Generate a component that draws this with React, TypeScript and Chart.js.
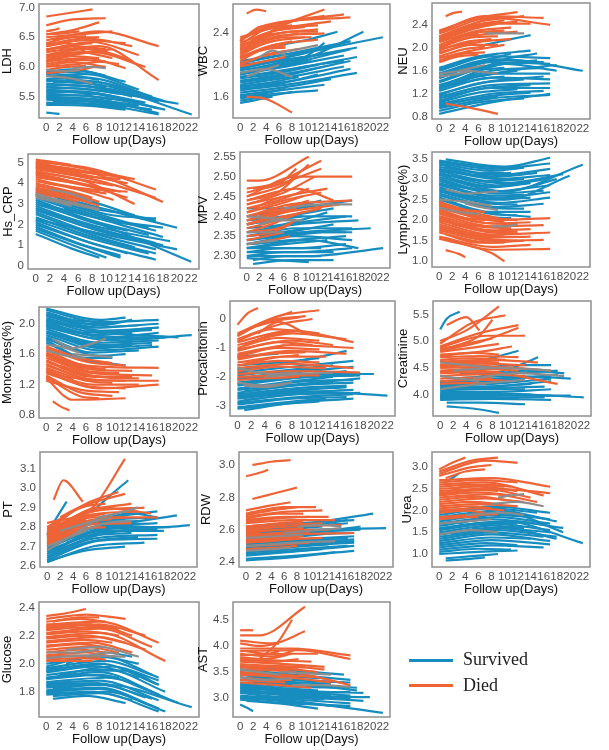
import React, { useEffect, useRef } from "react";
import { Chart, registerables } from "chart.js";
Chart.register(...registerables);

const BLUE = "#178dbf";
const ORANGE = "#ee6437";
const GREY = "#8c8c8c";
const FONT = "'Liberation Sans', Arial, sans-serif";

const DAY_TICKS = [0, 2, 4, 6, 8, 10, 12, 14, 16, 18, 20, 22];

// Each line: [x0, y0, x1, y1, x2, y2] (day, value)
const LDH_TICKS = [5.5, 6.0, 6.5, 7.0];
const LDH_SURVIVED = [
  [0,5.92,4,5.96,9,5.85],[0,5.88,5,5.93,12,5.75],[0,5.85,6,5.88,14,5.62],[0,5.8,6,5.82,16,5.5],
  [0,5.78,8,5.74,18,5.42],[1,5.75,8,5.7,17,5.45],[0,5.72,10,5.62,22,5.2],[0,5.7,6,5.68,13,5.55],
  [0,5.67,8,5.6,20,5.38],[0,5.65,5,5.64,11,5.55],[0,5.62,8,5.55,17,5.3],[0,5.6,6,5.58,15,5.4],
  [1,5.58,7,5.55,12,5.45],[0,5.55,9,5.48,18,5.28],[0,5.52,5,5.52,10,5.45],[0,5.5,8,5.45,17,5.22],
  [0,5.48,6,5.46,14,5.35],[0,5.45,7,5.42,16,5.28],[1,5.43,6,5.42,12,5.33],[0,5.4,8,5.37,17,5.2],
  [0,5.38,5,5.38,11,5.3],[0,5.36,6,5.35,12,5.28],[0,5.9,3,5.92,6,5.88],[1,5.83,4,5.85,8,5.78],
  [0,5.76,4,5.76,9,5.66],[2,5.7,7,5.66,13,5.5],[0,5.58,4,5.58,7,5.52],[1,5.47,6,5.46,13,5.36],
  [0,5.23,1,5.22,2,5.21],[3,5.8,9,5.72,17,5.4]
];
const LDH_DIED = [
  [0,6.85,3,6.9,7,6.97],[0,6.7,4,6.8,9,6.82],[0,6.6,1,6.62,2,6.65],[0,6.55,4,6.62,8,6.75],
  [0,6.5,5,6.55,10,6.6],[0,6.45,8,6.6,17,6.35],[0,6.4,4,6.5,8,6.5],[0,6.38,6,6.48,13,6.35],
  [0,6.35,6,6.45,12,6.4],[0,6.3,7,6.42,14,6.2],[0,6.28,4,6.35,9,6.3],[0,6.25,8,6.35,17,5.78],
  [0,6.2,6,6.3,13,6.1],[0,6.18,5,6.25,10,6.15],[0,6.15,7,6.25,15,6.0],[0,6.12,4,6.18,8,6.15],
  [0,6.1,6,6.15,12,5.98],[0,6.05,5,6.12,11,6.05],[0,6.02,4,6.08,9,6.0],[0,6.0,5,6.05,9,6.1],
  [0,5.95,3,6.0,6,6.02],[0,5.9,5,5.95,8,6.02],[1,6.45,4,6.5,6,6.52],[2,6.3,5,6.38,7,6.4],
  [0,6.55,3,6.57,5,6.6],[1,6.22,6,6.32,12,6.15],[0,6.35,3,6.4,6,6.25],[0,6.08,4,6.2,10,6.3]
];
const LDH_OTHER = [[0,5.85,4,5.8,7,5.72],[4,5.98,7,6.0,9,5.98],[0,5.95,3,5.93,5,5.95]];

const WBC_TICKS = [1.6, 2.0, 2.4];
const WBC_SURVIVED = [
  [0,2.05,6,2.12,13,2.2],[0,2.02,8,2.15,17,2.3],[0,1.98,8,2.12,22,2.35],[0,1.95,6,2.05,14,2.15],
  [0,1.93,10,2.08,19,2.42],[0,1.9,8,2.02,17,2.2],[0,1.88,7,1.98,16,2.12],[0,1.85,8,1.95,18,2.1],
  [0,1.83,6,1.9,12,2.0],[0,1.8,8,1.9,17,2.05],[0,1.78,6,1.85,13,1.98],[0,1.75,7,1.84,16,1.98],
  [0,1.72,8,1.8,17,1.95],[0,1.7,6,1.76,12,1.88],[0,1.68,8,1.76,18,1.9],[0,1.65,7,1.72,14,1.82],
  [0,1.62,6,1.68,13,1.75],[0,1.58,6,1.64,12,1.68],[0,1.55,4,1.6,8,1.66],[0,1.52,2,1.55,5,1.6],
  [1,1.9,6,1.98,11,2.05],[0,2.0,5,2.05,10,2.1],[1,1.8,5,1.85,9,1.9],[0,1.73,4,1.77,9,1.85],
  [2,1.95,9,2.08,18,2.22],[3,1.86,10,1.98,16,2.05],[0,1.6,3,1.63,7,1.7],[0,1.96,10,2.15,17,2.3],
  [0,1.88,10,2.1,13,2.28],[6,2.25,11,2.33,15,2.42]
];
const WBC_DIED = [
  [1,2.65,2.5,2.7,4,2.68],[0,2.35,6,2.5,13,2.7],[0,2.32,5,2.5,16,2.64],[0,2.3,3,2.48,17,2.6],
  [0,2.28,6,2.45,14,2.55],[0,2.25,4,2.45,12,2.5],[0,2.22,4,2.4,10,2.48],[0,2.2,5,2.38,12,2.45],
  [0,2.18,5,2.35,13,2.4],[0,2.15,4,2.32,9,2.4],[0,2.12,4,2.28,10,2.35],[0,2.1,5,2.25,12,2.32],
  [0,2.08,4,2.22,8,2.3],[0,2.05,3,2.18,7,2.25],[0,2.02,5,2.15,9,2.2],[0,2.0,3,2.1,6,2.15],
  [0,2.3,3,2.45,8,2.5],[1,2.25,4,2.38,6,2.4],[0,2.15,3,2.25,5,2.3],[0,2.2,7,2.35,11,2.35],
  [0,2.1,4,2.2,7,2.22],[1,2.35,3,2.48,5,2.5],[0,1.98,4,2.05,7,2.1],[1,1.6,4,1.57,8,1.4],
  [0,2.25,8,2.42,12,2.42],[2,2.3,8,2.55,13,2.62]
];
const WBC_OTHER = [[0,1.9,4,1.95,8,1.85],[6,2.15,9,2.2,12,2.25],[3,2.1,5,2.18,7,2.12],[1,1.85,4,1.95,6,2.0]];

const NEU_TICKS = [0.8, 1.2, 1.6, 2.0, 2.4];
const NEU_SURVIVED = [
  [0,1.65,6,1.85,14,1.95],[0,1.6,8,1.85,17,1.82],[0,1.55,8,1.8,16,1.75],[0,1.5,10,1.8,22,1.6],
  [0,1.47,8,1.75,17,1.72],[0,1.42,7,1.68,14,1.75],[0,1.4,10,1.72,18,1.6],[0,1.35,8,1.6,16,1.65],
  [0,1.3,8,1.55,17,1.55],[0,1.28,6,1.5,12,1.6],[0,1.25,8,1.48,17,1.45],[0,1.2,8,1.42,16,1.5],
  [0,1.18,6,1.38,13,1.45],[0,1.15,8,1.35,17,1.38],[0,1.12,7,1.3,14,1.35],[0,1.08,8,1.3,17,1.3],
  [0,1.05,6,1.22,12,1.28],[0,1.02,8,1.2,16,1.25],[0,0.98,7,1.15,14,1.22],[0,0.95,8,1.12,17,1.18],
  [0,0.9,6,1.05,13,1.12],[0,0.85,8,1.05,17,1.2],[1,1.58,6,1.75,11,1.9],[1,1.45,5,1.6,10,1.65],
  [0,1.62,4,1.78,9,1.9],[2,1.35,6,1.45,10,1.5],[0,1.32,9,1.7,15,1.78],[4,1.5,10,1.8,15,1.9],
  [0,1.0,5,1.1,9,1.15],[6,1.5,12,1.62,18,1.7],[0,1.55,5,1.65,9,1.7],[7,2.05,11,2.15,14,2.22]
];
const NEU_DIED = [
  [1,2.55,2,2.6,3.5,2.63],[0,2.3,6,2.52,12,2.62],[0,2.28,7,2.55,16,2.52],[0,2.25,8,2.52,17,2.4],
  [0,2.2,6,2.45,13,2.55],[0,2.18,5,2.38,10,2.48],[0,2.15,7,2.4,12,2.45],[0,2.12,5,2.32,9,2.42],
  [0,2.1,6,2.3,11,2.35],[0,2.05,5,2.25,10,2.3],[0,2.02,6,2.22,12,2.28],[0,2.0,5,2.18,9,2.2],
  [0,1.95,4,2.1,8,2.15],[0,1.92,6,2.1,11,2.15],[0,1.9,5,2.05,9,2.05],[0,1.85,4,1.98,7,2.02],
  [0,1.82,5,1.95,10,2.05],[0,1.78,4,1.9,7,1.92],[0,1.75,3,1.85,6,1.88],[1,2.2,4,2.35,7,2.42],
  [1,2.08,4,2.2,6,2.25],[0,1.98,3,2.05,5,2.1],[2,2.25,6,2.45,9,2.55],[0,2.14,8,2.42,14,2.42],
  [1,1.03,5,0.95,9,0.85]
];
const NEU_OTHER = [[0,1.55,4,1.6,9,1.55],[3,1.6,5,1.65,7,1.7],[7,2.25,10,2.25,13,2.25],[0,1.5,3,1.55,5,1.6]];

const CRP_TICKS = [0, 1, 2, 3, 4, 5];
const CRP_SURVIVED = [
  [0,3.8,8,3.1,14,2.45],[0,3.7,8,2.9,17,2.2],[0,3.6,9,2.8,20,1.85],[0,3.5,8,2.6,16,1.8],
  [0,3.4,8,2.5,17,1.7],[0,3.3,9,2.3,18,1.4],[0,3.2,8,2.2,16,1.5],[0,3.1,8,2.1,13,1.7],
  [0,3.0,10,1.9,22,0.2],[0,2.9,8,1.9,17,1.1],[0,2.8,8,1.8,15,1.2],[0,2.7,9,1.7,18,1.0],
  [0,2.6,8,1.6,17,0.8],[0,2.5,8,1.5,14,0.9],[0,2.35,8,1.4,17,0.6],[0,2.2,8,1.3,16,0.6],
  [0,2.1,7,1.2,13,0.6],[0,2.0,8,1.1,17,0.3],[0,1.9,6,1.1,12,0.5],[0,1.8,7,0.95,12,0.4],
  [0,1.7,6,0.9,10,0.4],[0,1.55,5,0.85,9,0.4],[1,3.0,9,2.3,18,1.85],[2,2.6,10,1.8,19,1.2],
  [3,3.3,10,2.5,17,2.3],[0,2.25,10,1.5,20,0.8],[4,2.8,10,2.2,16,1.9],[0,3.45,6,2.9,11,2.6]
];
const CRP_DIED = [
  [1,5.1,3,5.0,5,4.9],[0,5.15,7,4.7,14,4.2],[0,5.05,8,4.7,17,3.7],[0,5.0,6,4.6,12,4.3],
  [0,4.95,8,4.5,18,3.1],[0,4.9,5,4.6,10,4.4],[0,4.85,7,4.4,13,4.0],[0,4.8,6,4.4,12,4.2],
  [0,4.7,8,4.2,17,3.3],[0,4.6,6,4.2,11,3.9],[0,4.55,7,4.1,14,3.0],[0,4.5,5,4.1,9,3.8],
  [0,4.4,6,4.0,12,3.6],[0,4.3,7,3.9,13,3.3],[0,4.2,5,3.8,10,3.5],[0,4.1,6,3.7,11,3.2],
  [0,4.0,5,3.6,8,3.3],[0,3.9,4,3.6,9,3.1],[0,3.8,5,3.4,9,2.9],[0,3.7,4,3.45,7,3.2],
  [0,3.6,5,3.3,8,3.0],[1,4.7,4,4.5,7,4.3],[0,4.45,3,4.25,6,4.0],[0,4.75,4,4.55,9,4.55],
  [2,4.0,8,3.7,13,3.6],[0,3.5,3,3.35,6,3.1]
];
const CRP_OTHER = [[0,3.5,4,3.1,9,2.7],[0,3.3,3,3.1,5,2.9],[2,3.7,5,3.5,8,3.1],[0,3.4,6,3.0,9,2.75]];

const MPV_TICKS = [2.30, 2.35, 2.40, 2.45, 2.50, 2.55];
const MPV_SURVIVED = [
  [0,2.42,6,2.42,12,2.44],[0,2.4,8,2.42,17,2.44],[0,2.39,6,2.4,14,2.42],[0,2.38,8,2.4,17,2.4],
  [0,2.37,6,2.38,13,2.41],[0,2.36,8,2.38,18,2.39],[0,2.35,6,2.36,14,2.38],[0,2.35,8,2.37,17,2.37],
  [0,2.34,6,2.35,12,2.36],[0,2.34,9,2.36,20,2.37],[0,2.33,7,2.34,16,2.35],[0,2.33,8,2.35,17,2.34],
  [0,2.32,6,2.33,13,2.34],[0,2.32,8,2.32,16,2.33],[0,2.31,6,2.32,12,2.32],[0,2.31,8,2.31,17,2.32],
  [0,2.3,6,2.31,14,2.31],[0,2.3,10,2.3,22,2.32],[1,2.29,6,2.3,12,2.3],[1,2.28,7,2.29,14,2.29],
  [0,2.295,5,2.29,10,2.285],[0,2.36,5,2.36,10,2.37],[2,2.35,9,2.36,17,2.36],[0,2.32,4,2.33,8,2.34],
  [4,2.34,10,2.36,16,2.36],[0,2.38,4,2.39,9,2.4],[0,2.33,10,2.34,18,2.32],[6,2.38,11,2.39,16,2.4]
];
const MPV_DIED = [
  [0,2.49,2,2.49,10,2.55],[0,2.47,4,2.48,12,2.54],[0,2.46,5,2.48,12,2.52],[0,2.45,6,2.48,10,2.53],
  [0,2.45,8,2.5,17,2.5],[0,2.44,5,2.46,8,2.5],[0,2.43,6,2.46,11,2.5],[0,2.43,6,2.45,13,2.47],
  [0,2.42,5,2.44,10,2.47],[0,2.41,6,2.44,12,2.46],[0,2.41,5,2.43,9,2.45],[0,2.4,7,2.43,17,2.44],
  [0,2.39,5,2.41,9,2.43],[0,2.39,6,2.41,15,2.43],[0,2.38,4,2.4,8,2.42],[0,2.38,6,2.4,12,2.42],
  [0,2.37,5,2.39,9,2.41],[0,2.36,4,2.38,7,2.4],[0,2.36,5,2.37,8,2.39],[0,2.35,4,2.36,7,2.38],
  [0,2.34,3,2.35,6,2.36],[0,2.33,4,2.34,7,2.35],[1,2.47,5,2.48,8,2.52],[0,2.44,8,2.47,14,2.44],
  [2,2.4,6,2.42,10,2.44],[0,2.4,3,2.41,5,2.42],[1,2.42,4,2.44,6,2.45]
];
const MPV_OTHER = [[0,2.4,4,2.395,8,2.39],[0,2.36,3,2.36,6,2.36],[2,2.38,5,2.39,9,2.39],[0,2.33,2,2.335,5,2.34],[6,2.42,12,2.43,17,2.43]];

const LYM_TICKS = [1.0, 1.5, 2.0, 2.5, 3.0, 3.5];
const LYM_SURVIVED = [
  [0,3.45,8,3.3,12,3.3],[1,3.48,10,3.3,17,3.52],[0,3.42,8,3.25,17,3.38],[0,3.38,8,3.2,13,3.28],
  [0,3.35,9,3.1,17,3.25],[0,3.3,8,3.05,15,3.15],[0,3.25,9,3.0,17,3.1],[0,3.2,8,2.95,13,3.0],
  [0,3.15,9,2.85,17,3.02],[0,3.1,8,2.8,14,2.9],[0,3.05,10,2.7,22,3.35],[0,3.0,8,2.7,17,2.85],
  [0,2.95,9,2.65,16,2.72],[0,2.9,8,2.6,13,2.62],[0,2.85,9,2.55,17,2.68],[0,2.8,8,2.5,14,2.55],
  [0,2.75,9,2.42,17,2.55],[0,2.7,8,2.4,12,2.38],[0,2.65,9,2.32,16,2.4],[0,2.6,8,2.3,13,2.28],
  [0,2.55,8,2.2,14,2.2],[0,2.5,8,2.15,12,2.12],[0,2.45,6,2.1,11,2.05],[1,3.3,6,3.15,10,3.15],
  [0,3.12,10,2.9,19,3.12],[2,3.0,8,2.82,13,2.9],[0,2.88,10,2.7,18,3.0],[1,2.7,10,2.5,20,3.08],
  [3,2.3,9,2.15,14,2.08],[0,3.22,6,3.1,11,3.15]
];
const LYM_DIED = [
  [0,2.45,5,2.2,9,2.05],[0,2.4,6,2.1,12,2.0],[0,2.35,8,2.0,17,2.05],[0,2.3,6,2.05,10,1.95],
  [0,2.25,8,1.92,14,1.95],[0,2.2,6,1.95,12,1.9],[0,2.15,8,1.85,16,1.88],[0,2.1,6,1.85,11,1.8],
  [0,2.05,8,1.75,14,1.78],[0,2.0,7,1.75,12,1.72],[0,1.95,8,1.65,17,1.7],[0,1.9,6,1.65,10,1.6],
  [0,1.85,8,1.58,14,1.6],[0,1.8,7,1.55,12,1.5],[0,1.75,8,1.5,16,1.52],[0,1.7,6,1.48,10,1.45],
  [0,1.6,8,1.35,14,1.4],[0,1.55,8,1.2,10,1.0],[1,1.27,3,1.18,4,1.1],[1,1.55,8,1.28,17,1.3],
  [0,2.0,3,1.9,6,1.85],[0,2.2,4,2.05,7,2.0],[2,1.9,8,1.7,12,1.68],[1,1.65,6,1.45,13,1.5],
  [0,2.38,4,2.25,7,2.2]
];
const LYM_OTHER = [[1,2.75,4,2.65,9,2.7],[0,2.5,4,2.45,8,2.35],[4,2.4,7,2.3,9,2.25],[0,2.3,3,2.2,6,2.15],[8,1.85,10,1.85,12,1.9]];

const MONO_TICKS = [0.8, 1.2, 1.6, 2.0];
const MONO_SURVIVED = [
  [0,2.2,8,2.05,12,2.08],[0,2.18,8,2.02,17,2.05],[0,2.15,8,1.98,13,2.05],[0,2.12,7,1.95,17,2.0],
  [0,2.1,8,1.95,14,1.98],[0,2.07,9,1.9,17,1.95],[0,2.05,8,1.88,16,1.92],[0,2.02,8,1.85,13,1.88],
  [0,2.0,9,1.82,17,1.88],[0,1.98,8,1.8,15,1.82],[0,1.95,10,1.78,22,1.85],[0,1.93,8,1.75,17,1.78],
  [0,1.9,9,1.72,16,1.75],[0,1.88,8,1.7,13,1.72],[0,1.85,8,1.65,17,1.7],[0,1.82,7,1.62,14,1.65],
  [0,1.8,8,1.58,12,1.6],[0,1.78,6,1.55,10,1.55],[0,1.75,6,1.52,12,1.45],[1,2.1,6,2.0,10,2.0],
  [0,2.03,10,1.88,20,1.82],[2,1.95,9,1.82,18,1.82],[1,1.85,8,1.68,16,1.72],[0,1.97,5,1.88,9,1.9],
  [3,1.82,8,1.7,13,1.75],[0,2.12,4,2.05,8,2.02],[6,1.9,12,1.92,17,1.95]
];
const MONO_DIED = [
  [0,1.7,5,1.55,10,1.48],[0,1.68,6,1.5,12,1.45],[0,1.65,6,1.45,17,1.42],[0,1.62,5,1.45,9,1.4],
  [0,1.6,7,1.4,13,1.38],[0,1.58,6,1.38,11,1.35],[0,1.55,7,1.35,16,1.32],[0,1.52,6,1.32,10,1.3],
  [0,1.5,7,1.3,13,1.3],[0,1.47,6,1.28,12,1.25],[0,1.45,8,1.25,17,1.25],[0,1.42,6,1.25,10,1.22],
  [0,1.4,7,1.2,14,1.2],[0,1.37,6,1.18,12,1.15],[0,1.35,8,1.15,17,1.2],[0,1.32,5,1.1,10,1.05],
  [0,1.3,5,1.05,8,1.02],[0,1.28,4,1.0,12,1.02],[1,0.98,2,0.92,3.5,0.86],[0,1.25,6,1.12,11,1.1],
  [0,1.6,3,1.5,6,1.45],[1,1.55,5,1.42,8,1.4],[0,1.38,3,1.3,6,1.28],[2,1.45,8,1.3,14,1.28]
];
const MONO_OTHER = [[1,1.8,4,1.68,9,1.8],[0,1.65,3,1.58,6,1.55],[4,1.6,7,1.58,10,1.56],[0,1.72,2,1.7,5,1.62]];

const PCT_TICKS = [-3, -2, -1, 0];
const PCT_SURVIVED = [
  [0,-1.6,6,-1.5,12,-1.35],[0,-1.75,8,-1.5,16,-1.1],[0,-1.85,8,-1.65,17,-1.45],[0,-1.95,8,-1.75,14,-1.6],
  [0,-2.05,8,-1.85,17,-1.65],[0,-2.1,9,-1.9,20,-1.9],[0,-2.2,8,-2.0,16,-1.8],[0,-2.3,8,-2.05,17,-1.95],
  [0,-2.4,8,-2.15,14,-2.0],[0,-2.45,9,-2.25,18,-2.05],[0,-2.55,8,-2.3,17,-2.2],[0,-2.6,8,-2.4,16,-2.3],
  [0,-2.7,10,-2.5,22,-2.65],[0,-2.75,8,-2.55,17,-2.45],[0,-2.85,8,-2.6,14,-2.55],[0,-2.9,9,-2.7,17,-2.6],
  [0,-2.95,8,-2.75,16,-2.7],[0,-3.05,8,-2.85,13,-2.75],[1,-3.15,8,-2.9,17,-2.75],[0,-3.1,6,-2.95,12,-2.85],
  [1,-2.5,8,-2.3,14,-2.2],[2,-2.0,8,-1.8,13,-1.7],[0,-2.25,10,-2.0,18,-1.95],[1,-2.8,9,-2.6,18,-2.55],
  [4,-2.3,10,-2.15,17,-2.1],[0,-1.3,3,-1.25,6,-1.2],[0,-2.65,6,-2.5,11,-2.4],[3,-2.6,10,-2.45,16,-2.35]
];
const PCT_DIED = [
  [0,-0.2,1.5,0.2,3,0.38],[0,-0.5,6,0.1,12,0.3],[0,-0.55,5,0.0,8,0.25],[0,-0.6,4,-0.1,10,0.1],
  [0,-0.7,6,-0.2,11,0.0],[0,-0.75,5,-0.35,12,-0.5],[0,-0.8,8,-0.4,17,-0.8],[0,-0.9,8,-0.5,16,-0.7],
  [0,-1.0,6,-0.65,12,-0.75],[0,-1.05,8,-0.75,14,-0.9],[0,-1.1,6,-0.8,11,-0.9],[0,-1.2,8,-0.9,17,-1.0],
  [0,-1.25,6,-1.0,12,-1.05],[0,-1.35,8,-1.1,16,-1.2],[0,-1.4,5,-1.2,10,-1.15],[0,-1.5,7,-1.3,13,-1.3],
  [0,-1.6,6,-1.45,12,-1.5],[0,-1.7,8,-1.55,17,-1.7],[0,-1.8,6,-1.65,13,-1.7],[0,-1.9,8,-1.8,18,-1.85],
  [0,-2.0,6,-1.95,12,-1.95],[0,-2.1,4,-2.05,9,-2.0],[2,-0.3,6,-0.05,9,0.05],[1,-0.9,5,-0.55,9,-0.4],
  [3,-0.5,6,-0.1,10,-0.5],[0,-1.3,4,-1.05,7,-0.9],[1,-1.55,5,-1.35,9,-1.25]
];
const PCT_OTHER = [[0,-2.2,4,-2.3,8,-2.2],[0,-1.7,5,-1.9,9,-1.85],[4,-2.0,9,-1.9,14,-1.85],[1,-2.3,4,-2.35,7,-2.25]];

const CRE_TICKS = [4.0, 4.5, 5.0, 5.5];
const CRE_SURVIVED = [
  [0,5.22,1,5.42,3,5.55],[0,4.25,8,4.3,17,4.35],[0,4.22,6,4.25,13,4.3],[0,4.2,8,4.25,18,4.38],
  [0,4.18,8,4.2,17,4.3],[0,4.15,6,4.15,14,4.2],[0,4.12,8,4.15,17,4.25],[0,4.1,8,4.12,16,4.15],
  [0,4.08,6,4.1,13,4.1],[0,4.05,8,4.05,17,4.1],[0,4.02,8,4.02,22,3.95],[0,4.0,6,4.0,14,4.0],
  [0,3.98,8,4.0,17,3.98],[0,3.95,8,3.95,16,3.95],[0,3.92,6,3.93,12,3.92],[0,3.9,8,3.92,17,3.9],
  [1,3.85,6,3.85,13,3.82],[1,3.78,5,3.74,9,3.66],[0,4.2,10,4.45,15,4.7],[5,4.6,9,4.72,12,4.82],
  [6,4.5,12,4.55,17,4.55],[3,4.4,10,4.4,18,4.45],[7,4.35,13,4.45,19,4.4],[2,4.3,10,4.35,20,4.3],
  [0,4.17,5,4.2,10,4.25],[0,3.96,10,3.98,20,3.98]
];
const CRE_DIED = [
  [0,5.0,4,5.2,9,5.65],[0,4.95,5,5.35,10,5.48],[0,4.9,6,5.15,12,5.3],[0,4.88,7,5.1,13,5.1],
  [1,5.3,4,5.45,6,5.2],[0,4.85,4,4.95,8,5.05],[0,4.82,6,4.98,12,5.25],[0,4.8,5,4.88,9,4.95],
  [0,4.75,6,4.8,11,4.9],[0,4.72,5,4.78,9,4.75],[0,4.7,6,4.72,12,4.7],[0,4.65,5,4.68,10,4.65],
  [0,4.62,8,4.65,15,4.6],[0,4.6,5,4.62,9,4.6],[0,4.55,6,4.58,13,4.55],[0,4.52,5,4.55,10,4.5],
  [0,4.5,8,4.52,17,4.45],[0,4.45,6,4.48,12,4.45],[0,4.42,5,4.45,9,4.42],[0,4.4,7,4.42,18,4.2],
  [0,4.35,6,4.38,13,4.35],[0,4.3,5,4.32,8,4.3],[0,4.25,6,4.28,11,4.25],[0,4.2,4,4.22,7,4.2],
  [2,4.9,6,5.1,8,5.4],[0,4.55,4,4.6,7,4.62]
];
const CRE_OTHER = [[0,4.1,6,4.2,13,4.28],[2,4.45,9,4.5,17,4.45],[0,4.6,4,4.55,8,4.5],[5,4.3,12,4.4,19,4.35],[0,4.35,3,4.3,6,4.25]];

const PT_TICKS = [2.6, 2.7, 2.8, 2.9, 3.0, 3.1];
const PT_SURVIVED = [
  [0,2.78,6,2.83,12,2.84],[0,2.75,8,2.83,17,2.85],[0,2.74,7,2.82,14,2.83],[0,2.72,8,2.8,17,2.82],
  [0,2.71,6,2.79,12,2.8],[0,2.7,8,2.79,20,2.86],[0,2.69,7,2.78,16,2.8],[0,2.68,8,2.77,17,2.79],
  [0,2.67,6,2.75,13,2.77],[0,2.66,8,2.76,22,2.81],[0,2.65,7,2.74,17,2.76],[0,2.64,6,2.72,14,2.75],
  [0,2.63,8,2.73,17,2.74],[0,2.62,7,2.7,15,2.72],[0,2.625,6,2.68,12,2.7],[1,2.68,8,2.78,18,2.78],
  [0,2.77,5,2.82,10,2.84],[2,2.73,9,2.81,16,2.8],[0,2.7,4,2.75,8,2.78],[0,2.76,1.5,2.85,3,2.93],
  [7,2.88,10,2.97,12.5,3.04],[5,2.8,12,2.86,17,2.88],[3,2.72,10,2.8,19,2.8],[8,2.84,13,2.87,17,2.85]
];
const PT_DIED = [
  [1,2.94,2.5,3.04,5.5,2.93],[0,2.82,7,2.9,12,3.15],[0,2.8,6,2.92,11,2.98],[0,2.79,5,2.9,12,2.97],
  [0,2.78,6,2.88,13,2.92],[0,2.78,7,2.88,15,2.9],[0,2.77,5,2.86,10,2.9],[0,2.76,6,2.86,14,2.88],
  [0,2.75,5,2.84,9,2.87],[0,2.75,7,2.85,17,2.85],[0,2.74,6,2.83,12,2.85],[0,2.73,5,2.82,10,2.84],
  [0,2.72,6,2.81,13,2.82],[0,2.72,4,2.8,8,2.82],[0,2.71,5,2.79,9,2.8],[0,2.7,4,2.77,7,2.8],
  [1,2.8,4,2.88,7,2.92],[0,2.76,8,2.9,16,2.87],[2,2.85,5,2.9,9,2.92],[0,2.74,3,2.8,6,2.84]
];
const PT_OTHER = [[0,2.7,4,2.76,8,2.85],[2,2.78,6,2.82,10,2.85],[8,2.85,12,2.88,14,2.9],[0,2.68,3,2.74,6,2.78],[4,2.76,9,2.82,13,2.83]];

const RDW_TICKS = [2.4, 2.6, 2.8, 3.0];
const RDW_SURVIVED = [
  [0,2.62,8,2.64,17,2.66],[0,2.6,10,2.64,20,2.7],[0,2.59,8,2.62,16,2.64],[0,2.58,10,2.6,22,2.61],
  [0,2.56,8,2.59,17,2.6],[0,2.55,8,2.58,18,2.6],[0,2.54,8,2.57,17,2.58],[0,2.53,6,2.55,14,2.58],
  [0,2.52,8,2.54,17,2.56],[0,2.51,8,2.53,16,2.55],[0,2.5,8,2.52,17,2.54],[0,2.49,6,2.51,14,2.53],
  [0,2.48,8,2.5,17,2.52],[0,2.47,6,2.49,13,2.51],[0,2.46,8,2.48,16,2.5],[0,2.45,8,2.47,17,2.5],
  [0,2.44,6,2.46,12,2.48],[0,2.42,8,2.44,17,2.47],[0,2.41,7,2.43,14,2.46],[2,2.55,10,2.58,18,2.62],
  [1,2.48,9,2.51,17,2.53],[0,2.57,6,2.6,12,2.62],[4,2.6,11,2.63,16,2.66],[0,2.65,4,2.67,8,2.68]
];
const RDW_DIED = [
  [1,3.0,4,3.02,7,3.03],[0,2.93,2,2.95,3.5,2.97],[1,2.79,5,2.83,8,2.86],[0,2.72,4,2.75,7,2.77],
  [0,2.7,6,2.74,11,2.74],[0,2.69,4,2.72,8,2.74],[0,2.68,6,2.71,12,2.72],[0,2.67,5,2.7,9,2.7],
  [0,2.66,6,2.68,13,2.68],[0,2.65,5,2.67,10,2.68],[0,2.64,7,2.66,14,2.66],[0,2.62,5,2.64,9,2.65],
  [0,2.61,6,2.63,12,2.64],[0,2.6,7,2.62,15,2.63],[0,2.59,5,2.6,9,2.61],[0,2.58,6,2.6,13,2.6],
  [0,2.57,5,2.58,8,2.59],[0,2.56,6,2.57,10,2.58],[0,2.55,7,2.57,17,2.58],[0,2.54,5,2.55,9,2.56],
  [0,2.53,6,2.54,12,2.55],[0,2.52,4,2.53,7,2.54],[0,2.5,6,2.51,10,2.52],[0,2.48,5,2.49,8,2.5]
];
const RDW_OTHER = [[0,2.5,8,2.52,14,2.53],[6,2.58,12,2.6,15,2.61],[0,2.55,5,2.56,9,2.57],[0,2.47,4,2.48,7,2.49],[8,2.62,12,2.63,15,2.62]];

const UREA_TICKS = [1.0, 1.5, 2.0, 2.5, 3.0];
const UREA_SURVIVED = [
  [0,2.0,6,2.05,12,2.1],[0,1.95,8,2.1,17,1.95],[0,1.9,8,2.05,15,1.95],[0,1.85,9,2.0,18,1.75],
  [0,1.8,8,1.95,17,1.8],[0,1.75,8,1.9,14,1.85],[0,1.7,9,1.85,17,1.7],[0,1.65,8,1.8,16,1.68],
  [0,1.6,10,1.75,22,1.25],[0,1.55,8,1.7,17,1.55],[0,1.5,8,1.65,13,1.6],[0,1.45,8,1.6,17,1.5],
  [0,1.4,9,1.55,18,1.4],[0,1.35,8,1.5,16,1.4],[0,1.3,8,1.45,17,1.3],[0,1.25,8,1.38,14,1.35],
  [0,1.2,8,1.32,17,1.22],[0,1.15,7,1.25,12,1.2],[0,1.1,8,1.2,16,1.15],[0,1.05,6,1.12,11,1.1],
  [0,1.0,6,1.05,12,1.08],[1,0.9,5,0.95,9,1.0],[1,0.85,4,0.88,7,0.92],[1,2.65,2,2.75,3,2.85],
  [3,1.7,10,1.95,19,1.5],[2,1.45,10,1.6,18,1.35],[0,1.58,7,1.72,12,1.7],[5,1.6,11,1.75,19,1.6]
];
const UREA_DIED = [
  [0,2.95,2,3.1,4,3.22],[0,2.9,5,3.15,9,3.22],[0,2.85,7,3.15,12,3.1],[0,2.8,5,3.0,8,3.05],
  [0,2.7,8,2.75,17,2.55],[0,2.65,6,2.7,12,2.65],[0,2.6,7,2.65,16,2.35],[0,2.55,5,2.6,10,2.55],
  [0,2.5,6,2.55,12,2.45],[0,2.45,7,2.5,14,2.3],[0,2.4,5,2.48,9,2.45],[0,2.35,6,2.42,11,2.35],
  [0,2.3,8,2.38,15,2.2],[0,2.25,6,2.32,10,2.25],[0,2.2,7,2.28,13,2.2],[0,2.15,5,2.2,9,2.15],
  [0,2.1,6,2.15,12,2.1],[0,2.05,5,2.1,8,2.05],[0,2.0,6,2.05,10,2.0],[0,1.95,4,2.0,7,1.95],
  [0,1.85,5,1.9,9,1.92],[0,1.8,4,1.85,6,1.85],[1,2.75,4,2.9,7,2.95],[2,2.5,7,2.6,11,2.55],
  [0,2.38,9,2.5,17,2.4]
];
const UREA_OTHER = [[0,1.45,5,1.55,9,1.5],[4,1.9,10,1.95,13,1.9],[8,2.15,12,2.2,16,2.1],[0,1.7,4,1.75,8,1.8],[9,2.3,11,2.35,13,2.38]];

const GLU_TICKS = [1.8, 2.0, 2.2, 2.4];
const GLU_SURVIVED = [
  [0,2.0,8,2.05,14,2.0],[0,1.98,8,2.06,17,1.9],[0,1.97,9,2.02,16,1.92],[0,1.95,8,2.0,17,1.85],
  [0,1.94,8,1.98,14,1.9],[0,1.92,9,1.96,18,1.8],[0,1.9,8,1.94,17,1.78],[0,1.89,8,1.92,16,1.8],
  [0,1.87,9,1.9,20,1.72],[0,1.86,8,1.88,17,1.74],[0,1.84,8,1.86,15,1.76],[0,1.83,9,1.85,22,1.69],
  [0,1.81,8,1.83,17,1.68],[0,1.8,8,1.82,16,1.7],[0,1.79,7,1.8,13,1.74],[1,1.77,8,1.79,17,1.66],
  [1,1.75,6,1.77,12,1.72],[0,1.78,9,1.8,18,1.66],[0,1.96,5,1.98,9,2.0],[2,1.92,10,1.98,17,1.88],
  [3,2.0,9,2.08,13,2.05],[0,1.85,4,1.86,8,1.86],[6,1.95,12,1.95,17,1.85],[1,1.82,8,1.85,16,1.75],
  [0,1.9,6,1.92,11,1.9]
];
const GLU_DIED = [
  [0,2.34,3,2.36,6,2.39],[0,2.32,6,2.35,12,2.32],[0,2.3,5,2.32,9,2.3],[0,2.28,8,2.3,17,2.15],
  [0,2.27,6,2.28,11,2.25],[0,2.25,8,2.28,15,2.2],[0,2.24,6,2.26,10,2.25],[0,2.22,8,2.25,16,2.12],
  [0,2.21,6,2.23,11,2.2],[0,2.19,8,2.22,18,2.02],[0,2.18,6,2.2,12,2.15],[0,2.16,8,2.19,15,2.1],
  [0,2.15,6,2.17,10,2.15],[0,2.13,7,2.15,13,2.08],[0,2.12,5,2.14,9,2.12],[0,2.1,6,2.12,11,2.08],
  [0,2.08,5,2.1,9,2.08],[0,2.06,6,2.08,10,2.05],[0,2.05,4,2.06,8,2.05],[0,2.03,5,2.04,9,2.03],
  [0,2.02,4,2.02,7,2.02],[1,2.3,5,2.33,8,2.33],[2,2.22,8,2.27,13,2.2],[0,2.26,4,2.28,7,2.28]
];
const GLU_OTHER = [[0,2.04,6,2.06,12,2.05],[3,2.1,8,2.12,14,2.05],[0,2.08,4,2.08,8,2.1],[6,2.05,9,2.08,11,2.07]];

const AST_TICKS = [3.0, 3.5, 4.0, 4.5];
const AST_SURVIVED = [
  [0,3.6,6,3.55,16,3.45],[0,3.55,8,3.45,17,3.35],[0,3.5,6,3.42,13,3.38],[0,3.45,8,3.35,17,3.3],
  [0,3.4,6,3.32,14,3.28],[0,3.35,8,3.28,18,3.15],[0,3.3,8,3.22,17,3.2],[0,3.28,6,3.2,12,3.15],
  [0,3.25,8,3.15,19,3.1],[0,3.2,8,3.12,17,3.05],[0,3.18,6,3.1,14,3.05],[0,3.15,9,3.05,20,3.02],
  [0,3.12,8,3.05,17,3.0],[0,3.1,6,3.02,13,2.98],[0,3.05,8,2.98,17,2.9],[0,3.02,8,2.95,22,2.72],
  [0,3.0,6,2.95,14,2.85],[0,2.97,8,2.9,17,2.85],[1,2.95,6,2.9,12,2.8],[0,2.88,1,2.82,2,2.75],
  [2,3.3,10,3.25,18,3.2],[1,3.4,9,3.35,16,3.3],[4,3.15,11,3.1,17,3.12],[0,3.22,5,3.18,9,3.18],
  [6,3.05,12,3.0,19,2.95]
];
const AST_DIED = [
  [0,4.3,1,4.3,2,4.3],[0,4.2,3,4.2,10,4.75],[3,3.75,6,4.1,8,4.5],[0,4.1,5,4.05,10,4.28],
  [0,4.05,3,4.0,6,4.05],[0,3.95,8,3.95,17,3.82],[0,3.9,9,3.92,17,3.75],[0,3.85,5,3.8,9,3.95],
  [0,3.82,7,3.85,12,3.85],[0,3.78,4,3.75,8,3.85],[0,3.75,6,3.72,11,3.7],[0,3.72,5,3.7,9,3.75],
  [0,3.7,7,3.65,13,3.6],[0,3.65,5,3.62,10,3.6],[0,3.62,6,3.58,12,3.5],[0,3.6,5,3.55,9,3.55],
  [0,3.55,8,3.5,17,3.25],[0,3.5,6,3.45,12,3.4],[0,3.48,5,3.42,9,3.4],[0,3.45,7,3.4,14,3.3],
  [0,3.4,5,3.35,8,3.35],[0,3.35,4,3.32,7,3.3],[1,3.9,4,3.85,6,3.9],[2,3.6,8,3.6,13,3.55],
  [0,3.3,6,3.25,11,3.2]
];
const AST_OTHER = [[0,3.4,4,3.35,8,3.38],[6,3.5,10,3.48,14,3.45],[0,3.55,3,3.5,6,3.45],[8,3.25,12,3.25,17,3.22]];

type PanelCfg = {
  title: string; ticks: number[]; dec: number; min: number; max: number;
  survived: number[][]; died: number[][]; other: number[][];
  cl: number; l: number; r: number; t: number; b: number;
};

const PANELS: PanelCfg[] = [
  { title: "LDH", ticks: LDH_TICKS, dec: 1, min: 5.14, max: 7.06, survived: LDH_SURVIVED, died: LDH_DIED, other: LDH_OTHER, cl: 0, l: 39, r: 199, t: 4, b: 118 },
  { title: "WBC", ticks: WBC_TICKS, dec: 1, min: 1.33, max: 2.77, survived: WBC_SURVIVED, died: WBC_DIED, other: WBC_OTHER, cl: 196, l: 233, r: 390, t: 4, b: 118 },
  { title: "NEU", ticks: NEU_TICKS, dec: 1, min: 0.76, max: 2.78, survived: NEU_SURVIVED, died: NEU_DIED, other: NEU_OTHER, cl: 396, l: 432, r: 590, t: 3, b: 119 },
  { title: "Hs_CRP", ticks: CRP_TICKS, dec: 0, min: -0.15, max: 5.42, survived: CRP_SURVIVED, died: CRP_DIED, other: CRP_OTHER, cl: 1, l: 28, r: 199, t: 154, b: 269 },
  { title: "MPV", ticks: MPV_TICKS, dec: 2, min: 2.27, max: 2.562, survived: MPV_SURVIVED, died: MPV_DIED, other: MPV_OTHER, cl: 196, l: 240, r: 390, t: 152, b: 268 },
  { title: "Lymphocyte(%)", ticks: LYM_TICKS, dec: 1, min: 0.86, max: 3.66, survived: LYM_SURVIVED, died: LYM_DIED, other: LYM_OTHER, cl: 396, l: 432, r: 590, t: 152, b: 267 },
  { title: "Moncoytes(%)", ticks: MONO_TICKS, dec: 1, min: 0.76, max: 2.22, survived: MONO_SURVIVED, died: MONO_DIED, other: MONO_OTHER, cl: 0, l: 39, r: 199, t: 307, b: 418 },
  { title: "Procalcitonin", ticks: PCT_TICKS, dec: 0, min: -3.35, max: 0.62, survived: PCT_SURVIVED, died: PCT_DIED, other: PCT_OTHER, cl: 196, l: 230, r: 395, t: 301, b: 416 },
  { title: "Creatinine", ticks: CRE_TICKS, dec: 1, min: 3.6, max: 5.75, survived: CRE_SURVIVED, died: CRE_DIED, other: CRE_OTHER, cl: 396, l: 433, r: 591, t: 301, b: 416 },
  { title: "PT", ticks: PT_TICKS, dec: 1, min: 2.595, max: 3.185, survived: PT_SURVIVED, died: PT_DIED, other: PT_OTHER, cl: 1, l: 40, r: 197, t: 452, b: 567 },
  { title: "RDW", ticks: RDW_TICKS, dec: 1, min: 2.37, max: 3.08, survived: RDW_SURVIVED, died: RDW_DIED, other: RDW_OTHER, cl: 199, l: 239, r: 393, t: 452, b: 567 },
  { title: "Urea", ticks: UREA_TICKS, dec: 1, min: 0.7, max: 3.35, survived: UREA_SURVIVED, died: UREA_DIED, other: UREA_OTHER, cl: 400, l: 432, r: 590, t: 452, b: 567 },
  { title: "Glucose", ticks: GLU_TICKS, dec: 1, min: 1.62, max: 2.44, survived: GLU_SURVIVED, died: GLU_DIED, other: GLU_OTHER, cl: 0, l: 39, r: 199, t: 602, b: 717 },
  { title: "AST", ticks: AST_TICKS, dec: 1, min: 2.64, max: 4.84, survived: AST_SURVIVED, died: AST_DIED, other: AST_OTHER, cl: 196, l: 233, r: 390, t: 602, b: 717 },
];

const PAD = 3;
const XAXIS_H = 30;

const framePlugin = {
  id: "frame",
  afterDraw(chart: any) {
    const { ctx, chartArea } = chart;
    ctx.save();
    ctx.strokeStyle = "#8f8f8f";
    ctx.lineWidth = 1.5;
    ctx.strokeRect(chartArea.left, chartArea.top, chartArea.right - chartArea.left, chartArea.bottom - chartArea.top);
    ctx.restore();
  },
};

function toPoints(a: number[]) {
  const pts: { x: number; y: number }[] = [];
  for (let i = 0; i + 1 < a.length; i += 2) pts.push({ x: a[i], y: a[i + 1] });
  return pts;
}

function Panel({ p }: { p: PanelCfg }) {
  const ref = useRef<HTMLCanvasElement | null>(null);
  const w = p.r - p.cl + PAD;
  const h = PAD + (p.b - p.t) + XAXIS_H;
  const yW = p.l - p.cl;
  useEffect(() => {
    const mk = (lines: number[][], color: string, order: number) =>
      lines.map((l) => ({
        data: toPoints(l),
        borderColor: color,
        borderWidth: 2.2,
        pointRadius: 0,
        fill: false,
        tension: 0.4,
        cubicInterpolationMode: "monotone",
        order,
      }));
    const datasets: any[] = [
      ...mk(p.other, GREY, 0),
      ...mk(p.died, ORANGE, 1),
      ...mk(p.survived, BLUE, 2),
    ];
    const chart = new Chart(ref.current as HTMLCanvasElement, {
      type: "line",
      data: { datasets },
      options: {
        animation: false,
        responsive: false,
        events: [],
        layout: { padding: { top: PAD, right: PAD, left: 0, bottom: 0 } },
        plugins: { legend: { display: false }, tooltip: { enabled: false } },
        scales: {
          x: {
            type: "linear",
            min: -1.1,
            max: 23.1,
            afterBuildTicks: (s: any) => { s.ticks = DAY_TICKS.map((v) => ({ value: v })); },
            afterFit: (s: any) => { s.height = XAXIS_H; s.paddingLeft = 0; s.paddingRight = 0; },
            ticks: {
              autoSkip: false, maxRotation: 0, minRotation: 0, padding: 3,
              font: { family: FONT, size: 11.5 }, color: "#4d4d4d",
              callback: (v: any) => String(v),
            },
            grid: { display: false, drawTicks: false },
            border: { display: false },
            title: { display: true, text: "Follow up(Days)", font: { family: FONT, size: 13 }, color: "#111", padding: 0 },
          },
          y: {
            type: "linear",
            min: p.min,
            max: p.max,
            afterBuildTicks: (s: any) => { s.ticks = p.ticks.map((v) => ({ value: v })); },
            afterFit: (s: any) => { s.width = yW; s.paddingTop = 0; s.paddingBottom = 0; },
            ticks: {
              padding: 4, font: { family: FONT, size: 11.5 }, color: "#4d4d4d",
              callback: (v: any) => Number(v).toFixed(p.dec),
            },
            grid: { display: false, drawTicks: false },
            border: { display: false },
            title: { display: true, text: p.title, font: { family: FONT, size: 13 }, color: "#111", padding: 0 },
          },
        },
      } as any,
      plugins: [framePlugin],
    });
    return () => chart.destroy();
  }, []);
  return (
    <canvas
      ref={ref}
      width={w}
      height={h}
      style={{ position: "absolute", left: p.cl, top: p.t - PAD, width: w, height: h }}
    />
  );
}

export default function App() {
  return (
    <div style={{ position: "absolute", left: 0, top: 0, width: 609, height: 750, background: "#fff", overflow: "hidden" }}>
      {PANELS.map((p) => (
        <Panel key={p.title} p={p} />
      ))}
      <div style={{ position: "absolute", left: 409, top: 659, width: 44, height: 3, background: BLUE }} />
      <div style={{ position: "absolute", left: 463, top: 648, font: "18px 'Liberation Serif', 'Times New Roman', serif", color: "#222", lineHeight: "22px" }}>Survived</div>
      <div style={{ position: "absolute", left: 409, top: 684, width: 44, height: 3, background: ORANGE }} />
      <div style={{ position: "absolute", left: 463, top: 674, font: "18px 'Liberation Serif', 'Times New Roman', serif", color: "#222", lineHeight: "22px" }}>Died</div>
    </div>
  );
}
